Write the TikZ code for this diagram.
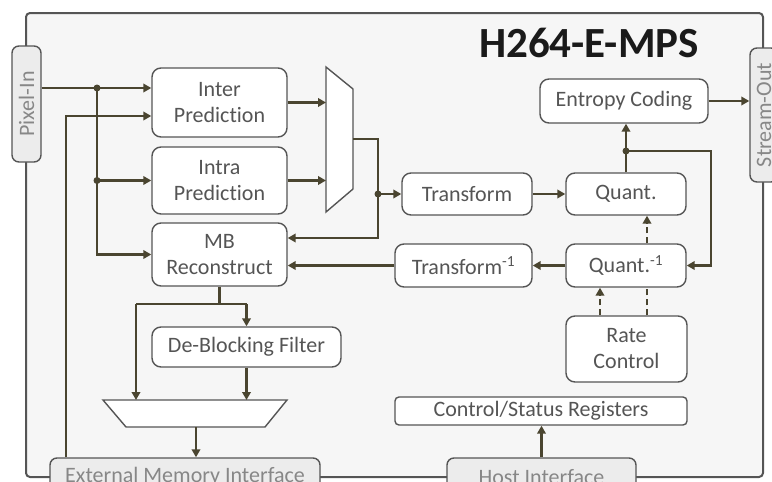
\documentclass[tikz,border=0pt]{standalone}
\usepackage{fontspec}
\setmainfont{Carlito}[Ligatures={NoCommon,TeX}]
\usetikzlibrary{arrows.meta}
\definecolor{arrc}{RGB}{74,69,48}
\definecolor{boxc}{RGB}{85,85,85}
\definecolor{txtc}{RGB}{85,85,85}
\definecolor{ifcf}{RGB}{236,236,236}
\definecolor{ifct}{RGB}{135,135,135}
\definecolor{bgc}{RGB}{246,246,246}
\definecolor{titc}{RGB}{26,26,26}
\begin{document}
\begin{tikzpicture}[x=1pt,y=-1pt,
  blk/.style={draw=boxc, line width=1.4pt, rounded corners=9pt, fill=white, text=txtc,
    font=\fontsize{22}{26}\selectfont, align=center, inner sep=0pt},
  ifc/.style={draw=boxc, line width=1.4pt, rounded corners=7pt, fill=ifcf, text=ifct,
    font=\fontsize{22}{26}\selectfont, inner sep=0pt},
  arr/.style={draw=arrc, line width=2.4pt, -{Triangle[length=8pt,width=8.5pt]}},
  ln/.style={draw=arrc, line width=2.4pt},
  dsh/.style={dash pattern=on 6pt off 4pt},
  jdot/.style={circle, fill=arrc, inner sep=0pt, minimum size=7pt},
  muxs/.style={draw=boxc, line width=1.4pt, fill=white}]
\useasboundingbox (0,0) rectangle (772,482);
% outer frame
\draw[draw=boxc, line width=2pt, rounded corners=4pt, fill=bgc] (26,13) rectangle (763,477);
\node[font=\fontsize{43}{48}\selectfont\bfseries, text=titc] (title) at (589,43) {H264-E-MPS};
% muxes
\coordinate (mA) at (326,67);
\draw[muxs] (mA) -- (353,89) -- (353,189) -- (326,212) -- cycle;
\coordinate (m2l) at (136,400);
\draw[muxs] (103,400) -- (287,400) -- (265,427) -- (126,427) -- cycle;
% blocks
\node[blk, minimum width=135pt, minimum height=69pt] (inter) at (219.5,102.5) {Inter\\Prediction};
\node[blk, minimum width=135pt, minimum height=67pt] (intra) at (219.5,180.5) {Intra\\Prediction};
\node[blk, minimum width=135pt, minimum height=63pt] (mbr) at (219.5,254.5) {MB\\Reconstruct};
\node[blk, minimum width=130pt, minimum height=42pt] (transform) at (467,194) {Transform};
\node[blk, minimum width=120pt, minimum height=42pt] (quant) at (626,194) {Quant.};
\node[blk, minimum width=168pt, minimum height=44pt] (entropy) at (624,101) {Entropy Coding};
\node[blk, minimum width=137pt, minimum height=43pt] (itransform) at (463.5,265.5) {Transform\textsuperscript{-1}};
\node[blk, minimum width=120pt, minimum height=43pt] (iquant) at (626,265.5) {Quant.\textsuperscript{-1}};
\node[blk, minimum width=121pt, minimum height=66pt] (rate) at (626.5,349) {Rate\\Control};
\node[blk, rounded corners=4pt, minimum width=292pt, minimum height=28pt] (csr) at (541,411) {Control/Status Registers};
\node[blk, minimum width=189pt, minimum height=40pt] (deblock) at (246.5,347) {De-Blocking Filter};
% interfaces
\node[ifc, minimum width=29pt, minimum height=116pt] (pixelin) at (26.5,104) {\rotatebox{90}{Pixel-In}};
\node[ifc, minimum width=28pt, minimum height=134pt] (streamout) at (764,115) {\rotatebox{90}{Stream-Out}};
\node[ifc, minimum width=270pt, minimum height=38pt] (emi) at (185,477) {External Memory Interface};
\node[ifc, minimum width=189pt, minimum height=38pt] (host) at (541.5,477) {Host Interface};
% input side
\coordinate (j1) at (97,88);
\coordinate (j2) at (j1 |- intra.west);
\draw[ln] (pixelin.east |- j1) -- (j1);
\draw[arr] (j1) -- (inter.west |- j1);
\draw[arr] (j1) |- (mbr.west);
\draw[arr] (j2) -- (intra.west);
\coordinate (e1) at (66,116);
\draw[arr] (emi.north -| e1) |- (inter.west |- e1);
% mux 1
\draw[arr] (inter.east) -- (inter.east -| mA);
\draw[arr] (intra.east) -- (intra.east -| mA);
\coordinate (mout) at (353,139);
\coordinate (j3) at (378,194);
\coordinate (j4) at (378,238);
\draw[ln] (mout) -| (j3);
\draw[arr] (j3) -- (transform.west);
\draw[arr] (j3) -- (j4) -- (mbr.east |- j4);
% forward path
\draw[arr] (transform.east) -- (quant.west);
\coordinate (y151) at (0,151);
\coordinate (j5) at (quant.north |- y151);
\draw[ln] (quant.north) -- (j5);
\draw[arr] (j5) -- (entropy.south -| j5);
\coordinate (r1) at (711,151);
\draw[arr] (j5) -- (r1) |- (iquant.east);
\draw[arr] (entropy.east) -- (streamout.west |- entropy.east);
% inverse path
\draw[arr] (iquant.west) -- (itransform.east);
\draw[arr] (itransform.west) -- (mbr.east |- itransform.west);
% rate control
\coordinate (d1) at (600,0);
\coordinate (d2) at (647,0);
\draw[arr, dsh] (rate.north -| d1) -- (iquant.south -| d1);
\draw[ln, dsh] (rate.north -| d2) -- (iquant.south -| d2);
\draw[arr, dsh] (iquant.north -| d2) -- (quant.south -| d2);
% host
\draw[arr] (host.north) -- (csr.south -| host.north);
% reconstruct / deblock
\coordinate (y304) at (0,304);
\coordinate (b1) at (mbr.south |- y304);
\coordinate (bl) at (136,304);
\coordinate (br) at (deblock.north |- y304);
\draw[ln] (mbr.south) -- (b1);
\draw[ln] (bl) -- (br);
\draw[arr] (br) -- (deblock.north);
\draw[arr] (bl) -- (m2l);
\draw[arr] (deblock.south) -- (deblock.south |- m2l);
\coordinate (m2o) at (196,427);
\draw[arr] (m2o) -- (emi.north -| m2o);
% junction dots
\node[jdot] (dj1) at (j1) {};
\node[jdot] (dj2) at (j2) {};
\node[jdot] (dj3) at (j3) {};
\node[jdot] (dj5) at (j5) {};
\end{tikzpicture}
\end{document}
